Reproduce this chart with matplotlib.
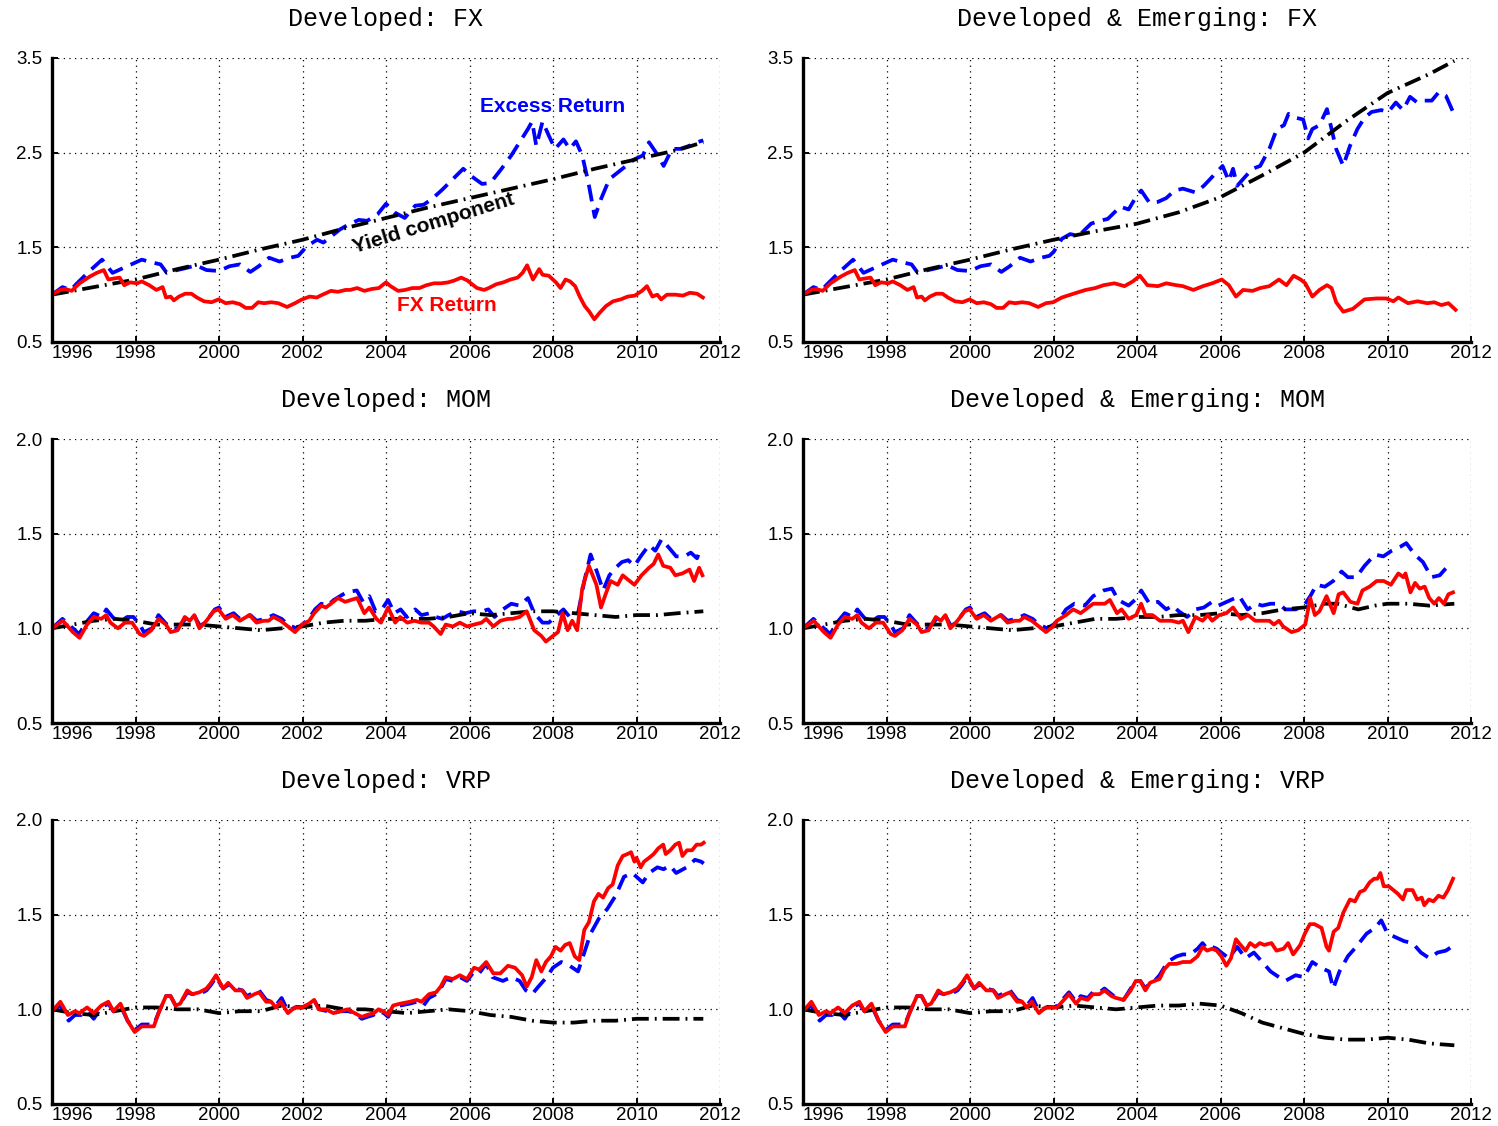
import matplotlib
matplotlib.use('Agg')
import matplotlib.pyplot as plt

# ---------------- DATA ----------------
years_ticks = [1996, 1998, 2000, 2002, 2004, 2006, 2008, 2010, 2012]
yticks_fx = [0.5, 1.5, 2.5, 3.5]
yticks_other = [0.5, 1.0, 1.5, 2.0]
titles = ["Developed: FX", "Developed & Emerging: FX",
          "Developed: MOM", "Developed & Emerging: MOM",
          "Developed: VRP", "Developed & Emerging: VRP"]

# ---- FX, common early part (1996-2002) ----
fx_early_red_t = [1996.0, 1996.2, 1996.32, 1996.47, 1996.66, 1996.9, 1997.07, 1997.24, 1997.35, 1997.47,
                  1997.62, 1997.73, 1997.87, 1998.04, 1998.15, 1998.33, 1998.5, 1998.65, 1998.73, 1998.84,
                  1998.92, 1999.04, 1999.19, 1999.34, 1999.47, 1999.64, 1999.82, 1999.99, 2000.16, 2000.33,
                  2000.5, 2000.64, 2000.79, 2000.94, 2001.08, 2001.25, 2001.42, 2001.63, 2001.82]
fx_early_red_v = [1.0, 1.05, 1.06, 1.04, 1.12, 1.19, 1.23, 1.26, 1.16, 1.17,
                  1.18, 1.1, 1.13, 1.12, 1.14, 1.1, 1.05, 1.08, 0.97, 0.98,
                  0.94, 0.98, 1.01, 1.01, 0.97, 0.93, 0.92, 0.95, 0.91, 0.92,
                  0.9, 0.86, 0.86, 0.92, 0.91, 0.92, 0.91, 0.87, 0.91]
fx_early_blue_t = [1996.0, 1996.25, 1996.45, 1996.6, 1996.9, 1997.2, 1997.45, 1997.7, 1997.9, 1998.15,
                   1998.4, 1998.6, 1998.75, 1998.9, 1999.2, 1999.45, 1999.7, 2000.0, 2000.25, 2000.5,
                   2000.75, 2000.95, 2001.2, 2001.45, 2001.7, 2001.9]
fx_early_blue_v = [1.0, 1.08, 1.05, 1.12, 1.25, 1.37, 1.23, 1.28, 1.32, 1.37,
                   1.34, 1.32, 1.23, 1.25, 1.28, 1.31, 1.26, 1.25, 1.3, 1.32,
                   1.24, 1.3, 1.39, 1.35, 1.39, 1.41]

# ---- Developed: FX ----
dev_fx_red_t = [2001.99, 2002.17, 2002.34, 2002.48, 2002.68, 2002.85, 2003.03, 2003.14, 2003.31, 2003.48,
                2003.66, 2003.83, 2004.0, 2004.11, 2004.29, 2004.46, 2004.63, 2004.8, 2004.97, 2005.15,
                2005.32, 2005.49, 2005.64, 2005.8, 2005.95, 2006.06, 2006.18, 2006.35, 2006.46, 2006.64,
                2006.81, 2006.98, 2007.15, 2007.27, 2007.38, 2007.52, 2007.67, 2007.75, 2007.9, 2008.07,
                2008.18, 2008.3, 2008.41, 2008.53, 2008.64, 2008.76, 2008.87, 2008.99, 2009.12, 2009.27,
                2009.44, 2009.62, 2009.79, 2009.96, 2010.13, 2010.25, 2010.38, 2010.5, 2010.59, 2010.73,
                2010.93, 2011.11, 2011.28, 2011.45, 2011.59]
dev_fx_red_v = [0.95, 0.98, 0.97, 1.0, 1.04, 1.03, 1.05, 1.05, 1.07, 1.04,
                1.06, 1.07, 1.13, 1.09, 1.04, 1.05, 1.07, 1.07, 1.1, 1.12,
                1.12, 1.13, 1.15, 1.18, 1.15, 1.11, 1.07, 1.05, 1.07, 1.11,
                1.13, 1.16, 1.18, 1.23, 1.31, 1.16, 1.27, 1.21, 1.2, 1.13,
                1.07, 1.16, 1.14, 1.09, 0.98, 0.88, 0.82, 0.74, 0.81, 0.88,
                0.93, 0.95, 0.98, 0.99, 1.04, 1.09, 0.98, 1.0, 0.95, 1.0,
                1.0, 0.99, 1.02, 1.01, 0.97]
dev_fx_blue_t = [2002.1, 2002.35, 2002.5, 2002.7, 2002.9, 2003.1, 2003.35, 2003.55, 2003.8, 2004.0,
                 2004.2, 2004.45, 2004.7, 2004.9, 2005.1, 2005.35, 2005.6, 2005.85, 2006.05, 2006.3,
                 2006.5, 2006.75, 2007.0, 2007.2, 2007.4, 2007.5, 2007.6, 2007.75, 2007.9, 2008.05,
                 2008.25, 2008.4, 2008.55, 2008.7, 2008.85, 2009.0, 2009.15, 2009.35, 2009.55, 2009.75,
                 2009.95, 2010.15, 2010.3, 2010.5, 2010.65, 2010.85, 2011.05, 2011.25, 2011.45, 2011.6]
dev_fx_blue_v = [1.51, 1.58, 1.55, 1.62, 1.69, 1.74, 1.79, 1.78, 1.85, 1.96,
                 1.87, 1.81, 1.94, 1.95, 2.01, 2.11, 2.22, 2.33, 2.25, 2.17,
                 2.18, 2.32, 2.47, 2.61, 2.75, 2.83, 2.57, 2.83, 2.68, 2.54,
                 2.64, 2.54, 2.62, 2.47, 2.18, 1.82, 2.01, 2.22, 2.29, 2.36,
                 2.43, 2.47, 2.61, 2.48, 2.36, 2.54, 2.54, 2.57, 2.61, 2.63]
dev_fx_black_t = [1996, 1997, 1998, 1999, 2000, 2001, 2002, 2003, 2004, 2005, 2006, 2007, 2008, 2009,
                  2010, 2011, 2011.6]
dev_fx_black_v = [1.0, 1.08, 1.16, 1.27, 1.37, 1.48, 1.58, 1.7, 1.81, 1.92, 2.02, 2.12, 2.22, 2.33,
                  2.43, 2.53, 2.61]

# ---- Developed & Emerging: FX ----
de_fx_red_t = [2001.99, 2002.2, 2002.55, 2002.77, 2003.0, 2003.2, 2003.46, 2003.7, 2003.9, 2004.07,
               2004.25, 2004.5, 2004.7, 2004.94, 2005.1, 2005.35, 2005.58, 2005.8, 2006.03, 2006.2,
               2006.37, 2006.54, 2006.77, 2006.95, 2007.17, 2007.4, 2007.58, 2007.75, 2007.92, 2008.03,
               2008.2, 2008.37, 2008.55, 2008.66, 2008.77, 2008.94, 2009.17, 2009.45, 2009.74, 2009.97,
               2010.14, 2010.26, 2010.49, 2010.72, 2010.95, 2011.12, 2011.29, 2011.46, 2011.63]
de_fx_red_v = [0.92, 0.97, 1.02, 1.05, 1.07, 1.1, 1.12, 1.09, 1.14, 1.2,
               1.1, 1.09, 1.12, 1.1, 1.09, 1.05, 1.09, 1.12, 1.16, 1.1,
               0.98, 1.05, 1.04, 1.07, 1.09, 1.16, 1.1, 1.2, 1.16, 1.12,
               0.98, 1.05, 1.1, 1.07, 0.92, 0.82, 0.85, 0.95, 0.96, 0.96,
               0.93, 0.97, 0.91, 0.93, 0.91, 0.92, 0.89, 0.91, 0.84]
de_fx_blue_t = [2002.0, 2002.2, 2002.4, 2002.6, 2002.9, 2003.1, 2003.3, 2003.6, 2003.8, 2004.0,
                2004.1, 2004.3, 2004.5, 2004.7, 2004.9, 2005.1, 2005.4, 2005.6, 2005.9, 2006.05,
                2006.2, 2006.3, 2006.4, 2006.6, 2006.77, 2006.95, 2007.17, 2007.35, 2007.52, 2007.63,
                2007.8, 2007.98, 2008.1, 2008.2, 2008.37, 2008.55, 2008.66, 2008.77, 2008.94, 2009.1,
                2009.28, 2009.45, 2009.62, 2009.85, 2010.02, 2010.2, 2010.37, 2010.54, 2010.71, 2010.89,
                2011.06, 2011.23, 2011.4, 2011.57]
de_fx_blue_v = [1.45, 1.59, 1.64, 1.62, 1.75, 1.78, 1.8, 1.93, 1.9, 2.05,
                2.1, 1.97, 1.98, 2.02, 2.1, 2.12, 2.08, 2.15, 2.29, 2.36,
                2.2, 2.33, 2.15, 2.25, 2.33, 2.36, 2.54, 2.75, 2.79, 2.91,
                2.87, 2.85, 2.65, 2.75, 2.79, 2.96, 2.75, 2.54, 2.36, 2.57,
                2.75, 2.87, 2.93, 2.95, 2.93, 3.03, 2.95, 3.09, 3.03, 3.05,
                3.05, 3.14, 3.1, 2.93]
de_fx_black_t = [1996, 1997, 1998, 1999, 2000, 2001, 2002, 2003, 2004, 2005, 2006, 2007, 2008, 2009,
                 2010, 2011, 2011.6]
de_fx_black_v = [1.0, 1.08, 1.16, 1.27, 1.37, 1.48, 1.58, 1.67, 1.75, 1.87, 2.03, 2.26, 2.5, 2.83,
                 3.13, 3.33, 3.47]

# ---- MOM, common early part ----
mom_early_red_t = [1996.0, 1996.26, 1996.5, 1996.66, 1996.84, 1997.0, 1997.18, 1997.3, 1997.4, 1997.58,
                   1997.75, 1997.92, 1998.1, 1998.2, 1998.38, 1998.55, 1998.73, 1998.84, 1999.01, 1999.18,
                   1999.3, 1999.41, 1999.53, 1999.7, 1999.87, 1999.99, 2000.16, 2000.33, 2000.5, 2000.73,
                   2000.9, 2001.07, 2001.19, 2001.3, 2001.48, 2001.65, 2001.82]
mom_early_red_v = [1.0, 1.04, 0.98, 0.95, 1.02, 1.06, 1.05, 1.07, 1.03, 1.0,
                   1.03, 1.03, 0.97, 0.96, 0.99, 1.05, 1.02, 0.98, 0.99, 1.06,
                   1.04, 1.07, 1.0, 1.04, 1.09, 1.1, 1.05, 1.07, 1.04, 1.07,
                   1.03, 1.04, 1.04, 1.06, 1.04, 1.01, 0.98]
mom_early_blue_t = [1996.0, 1996.25, 1996.5, 1996.65, 1996.85, 1997.0, 1997.2, 1997.3, 1997.45, 1997.6,
                    1997.8, 1997.95, 1998.1, 1998.2, 1998.4, 1998.55, 1998.75, 1998.85, 1999.0, 1999.2,
                    1999.4, 1999.55, 1999.7, 1999.9, 2000.0, 2000.15, 2000.35, 2000.5, 2000.75, 2000.9,
                    2001.1, 2001.3, 2001.5, 2001.65, 2001.85]
mom_early_blue_v = [1.0, 1.05, 1.0, 0.97, 1.04, 1.08, 1.06, 1.1, 1.06, 1.03,
                    1.06, 1.06, 1.02, 0.98, 1.0, 1.07, 1.02, 1.0, 1.0, 1.05,
                    1.07, 1.01, 1.04, 1.1, 1.11, 1.06, 1.08, 1.05, 1.07, 1.04,
                    1.05, 1.07, 1.05, 1.02, 1.0]
mom_early_black_t = [1996.0, 1996.5, 1997.0, 1997.5, 1998.0, 1998.5, 1999.0, 1999.5, 2000.0, 2000.5,
                     2001.0, 2001.5]
mom_early_black_v = [1.0, 1.02, 1.04, 1.05, 1.04, 1.02, 1.02, 1.02, 1.01, 1.0, 0.99, 1.0]

# ---- Developed: MOM ----
dev_mom_red_t = [2001.99, 2002.16, 2002.28, 2002.45, 2002.56, 2002.68, 2002.85, 2003.02, 2003.31, 2003.48,
                 2003.6, 2003.77, 2003.88, 2004.05, 2004.22, 2004.34, 2004.51, 2004.68, 2004.85, 2005.03,
                 2005.14, 2005.31, 2005.43, 2005.6, 2005.77, 2005.94, 2006.11, 2006.29, 2006.4, 2006.57,
                 2006.74, 2006.92, 2007.03, 2007.2, 2007.37, 2007.55, 2007.72, 2007.83, 2008.0, 2008.12,
                 2008.23, 2008.35, 2008.46, 2008.58, 2008.7, 2008.86, 2009.04, 2009.15, 2009.26, 2009.38,
                 2009.55, 2009.67, 2009.78, 2009.95, 2010.12, 2010.3, 2010.41, 2010.52, 2010.64, 2010.81,
                 2010.93, 2011.1, 2011.27, 2011.38, 2011.5, 2011.58]
dev_mom_red_v = [1.02, 1.04, 1.08, 1.12, 1.11, 1.13, 1.16, 1.14, 1.16, 1.08,
                 1.11, 1.05, 1.03, 1.11, 1.03, 1.06, 1.03, 1.04, 1.03, 1.03,
                 1.01, 0.97, 1.02, 1.01, 1.03, 1.01, 1.02, 1.03, 1.05, 1.01,
                 1.04, 1.05, 1.05, 1.06, 1.09, 0.99, 0.96, 0.93, 0.96, 0.98,
                 1.08, 0.99, 1.04, 0.99, 1.21, 1.33, 1.23, 1.11, 1.18, 1.25,
                 1.23, 1.28, 1.26, 1.23, 1.28, 1.32, 1.34, 1.39, 1.33, 1.32,
                 1.28, 1.29, 1.31, 1.25, 1.32, 1.28]
dev_mom_blue_t = [2002.0, 2002.15, 2002.3, 2002.45, 2002.6, 2002.75, 2002.9, 2003.05, 2003.3, 2003.45,
                  2003.6, 2003.75, 2003.9, 2004.05, 2004.2, 2004.35, 2004.5, 2004.7, 2004.85, 2005.05,
                  2005.2, 2005.35, 2005.5, 2005.7, 2005.9, 2006.1, 2006.3, 2006.45, 2006.6, 2006.8,
                  2007.0, 2007.2, 2007.4, 2007.55, 2007.75, 2007.9, 2008.1, 2008.25, 2008.4, 2008.6,
                  2008.75, 2008.9, 2009.05, 2009.2, 2009.35, 2009.5, 2009.65, 2009.8, 2009.95, 2010.1,
                  2010.3, 2010.45, 2010.6, 2010.8, 2010.95, 2011.15, 2011.3, 2011.45, 2011.55]
dev_mom_blue_v = [1.02, 1.05, 1.1, 1.13, 1.12, 1.15, 1.17, 1.19, 1.2, 1.14,
                  1.17, 1.09, 1.1, 1.15, 1.08, 1.1, 1.06, 1.1, 1.07, 1.08,
                  1.06, 1.05, 1.07, 1.09, 1.08, 1.09, 1.09, 1.1, 1.06, 1.1,
                  1.13, 1.12, 1.16, 1.08, 1.03, 1.03, 1.07, 1.1, 1.06, 1.08,
                  1.25, 1.39, 1.3, 1.2, 1.28, 1.32, 1.35, 1.36, 1.33, 1.38,
                  1.44, 1.41, 1.47, 1.42, 1.38, 1.38, 1.4, 1.37, 1.43]
dev_mom_black_t = [2002.0, 2002.5, 2003.0, 2003.5, 2004.0, 2004.5, 2005.0, 2005.5, 2006.0, 2006.5,
                   2007.0, 2007.5, 2008.0, 2008.5, 2009.0, 2009.5, 2010.0, 2010.5, 2011.0, 2011.6]
dev_mom_black_v = [1.01, 1.03, 1.04, 1.04, 1.05, 1.05, 1.05, 1.06, 1.08, 1.07,
                   1.08, 1.09, 1.09, 1.08, 1.07, 1.06, 1.07, 1.07, 1.08, 1.09]

# ---- Developed & Emerging: MOM ----
de_mom_red_t = [2001.99, 2002.08, 2002.3, 2002.47, 2002.65, 2002.77, 2002.95, 2003.23, 2003.35, 2003.52,
                2003.63, 2003.8, 2003.98, 2004.1, 2004.2, 2004.37, 2004.55, 2004.7, 2004.83, 2005.0,
                2005.1, 2005.23, 2005.4, 2005.57, 2005.7, 2005.8, 2005.97, 2006.14, 2006.3, 2006.49,
                2006.66, 2006.83, 2007.0, 2007.17, 2007.28, 2007.4, 2007.5, 2007.7, 2007.86, 2008.03,
                2008.15, 2008.26, 2008.37, 2008.54, 2008.71, 2008.83, 2008.94, 2009.11, 2009.28, 2009.4,
                2009.57, 2009.74, 2009.91, 2010.08, 2010.26, 2010.38, 2010.43, 2010.55, 2010.66, 2010.77,
                2010.89, 2011.0, 2011.12, 2011.23, 2011.35, 2011.46, 2011.57]
de_mom_red_v = [1.01, 1.04, 1.07, 1.1, 1.08, 1.1, 1.13, 1.13, 1.15, 1.08,
                1.1, 1.05, 1.07, 1.13, 1.07, 1.07, 1.04, 1.04, 1.04, 1.03,
                1.04, 0.98, 1.06, 1.04, 1.07, 1.04, 1.07, 1.08, 1.11, 1.05,
                1.07, 1.04, 1.04, 1.04, 1.02, 1.04, 1.01, 0.98, 0.99, 1.02,
                1.16, 1.07, 1.09, 1.17, 1.08, 1.18, 1.19, 1.14, 1.13, 1.2,
                1.22, 1.25, 1.25, 1.23, 1.29, 1.27, 1.29, 1.19, 1.24, 1.21,
                1.22, 1.16, 1.13, 1.16, 1.13, 1.18, 1.19]
de_mom_blue_t = [2002.0, 2002.15, 2002.3, 2002.5, 2002.75, 2002.95, 2003.2, 2003.4, 2003.55, 2003.8,
                 2004.0, 2004.1, 2004.3, 2004.5, 2004.7, 2004.85, 2005.0, 2005.2, 2005.4, 2005.6,
                 2005.8, 2005.95, 2006.15, 2006.45, 2006.65, 2006.85, 2007.0, 2007.2, 2007.4, 2007.55,
                 2007.8, 2008.0, 2008.15, 2008.3, 2008.5, 2008.7, 2008.9, 2009.05, 2009.25, 2009.45,
                 2009.7, 2009.9, 2010.1, 2010.3, 2010.45, 2010.65, 2010.85, 2011.05, 2011.25, 2011.45,
                 2011.55]
de_mom_blue_v = [1.02, 1.05, 1.1, 1.13, 1.12, 1.17, 1.2, 1.21, 1.15, 1.12,
                 1.16, 1.2, 1.13, 1.14, 1.1, 1.12, 1.09, 1.06, 1.1, 1.11,
                 1.14, 1.12, 1.14, 1.17, 1.1, 1.13, 1.12, 1.13, 1.13, 1.1,
                 1.1, 1.12, 1.17, 1.23, 1.22, 1.25, 1.3, 1.27, 1.27, 1.33,
                 1.39, 1.38, 1.41, 1.43, 1.45, 1.39, 1.35, 1.27, 1.28, 1.33,
                 1.34]
de_mom_black_t = [2002.0, 2002.5, 2003.0, 2003.5, 2004.0, 2004.5, 2005.0, 2005.5, 2006.0, 2006.5,
                  2007.0, 2007.5, 2008.0, 2008.5, 2008.8, 2009.3, 2009.7, 2010.0, 2010.5, 2011.0,
                  2011.6]
de_mom_black_v = [1.01, 1.03, 1.05, 1.05, 1.06, 1.06, 1.07, 1.07, 1.08, 1.07,
                  1.08, 1.1, 1.11, 1.13, 1.13, 1.1, 1.12, 1.13, 1.13, 1.12,
                  1.13]

# ---- VRP, common early part ----
vrp_early_red_t = [1996.0, 1996.2, 1996.38, 1996.55, 1996.66, 1996.84, 1997.0, 1997.18, 1997.35, 1997.47,
                   1997.64, 1997.81, 1997.98, 1998.15, 1998.33, 1998.44, 1998.55, 1998.73, 1998.84, 1998.96,
                   1999.07, 1999.24, 1999.36, 1999.53, 1999.7, 1999.81, 1999.93, 2000.1, 2000.22, 2000.39,
                   2000.56, 2000.67, 2000.85, 2000.96, 2001.13, 2001.25, 2001.36, 2001.48, 2001.65, 2001.82]
vrp_early_red_v = [0.99, 1.04, 0.97, 0.99, 0.98, 1.01, 0.98, 1.02, 1.04, 0.99,
                   1.03, 0.94, 0.88, 0.91, 0.91, 0.91, 0.98, 1.07, 1.07, 1.02,
                   1.03, 1.1, 1.08, 1.09, 1.11, 1.14, 1.18, 1.11, 1.14, 1.1,
                   1.1, 1.06, 1.08, 1.09, 1.04, 1.04, 1.01, 1.04, 0.98, 1.01]
vrp_early_blue_t = [1996.0, 1996.2, 1996.4, 1996.55, 1996.7, 1996.84, 1997.0, 1997.18, 1997.35, 1997.47,
                    1997.64, 1997.81, 1997.98, 1998.15, 1998.33, 1998.44, 1998.55, 1998.73, 1998.84, 1998.96,
                    1999.07, 1999.24, 1999.36, 1999.53, 1999.7, 1999.81, 1999.93, 2000.1, 2000.22, 2000.39,
                    2000.56, 2000.67, 2000.85, 2000.96, 2001.13, 2001.25, 2001.36, 2001.5, 2001.65, 2001.82]
vrp_early_blue_v = [0.99, 1.02, 0.94, 0.97, 0.97, 0.99, 0.95, 1.01, 1.03, 0.99,
                    1.02, 0.94, 0.89, 0.92, 0.92, 0.92, 0.98, 1.07, 1.07, 1.02,
                    1.03, 1.09, 1.08, 1.08, 1.1, 1.13, 1.17, 1.11, 1.13, 1.11,
                    1.1, 1.07, 1.09, 1.1, 1.05, 1.04, 1.02, 1.06, 0.99, 1.01]
vrp_early_black_t = [1996.0, 1996.5, 1997.0, 1997.5, 1998.0, 1998.5, 1999.0, 1999.5, 2000.0, 2000.5,
                     2001.0, 2001.5]
vrp_early_black_v = [1.0, 0.98, 0.97, 0.99, 1.01, 1.01, 1.0, 1.0, 0.98, 0.99, 0.99, 1.02]

# ---- Developed: VRP ----
dev_vrp_red_t = [2001.99, 2002.16, 2002.28, 2002.39, 2002.56, 2002.74, 2002.91, 2003.08, 2003.25, 2003.42,
                 2003.54, 2003.71, 2003.82, 2003.94, 2004.05, 2004.17, 2004.34, 2004.57, 2004.74, 2004.85,
                 2005.03, 2005.2, 2005.31, 2005.43, 2005.6, 2005.77, 2005.94, 2006.11, 2006.23, 2006.4,
                 2006.57, 2006.74, 2006.92, 2007.09, 2007.26, 2007.37, 2007.49, 2007.6, 2007.72, 2007.83,
                 2007.95, 2008.06, 2008.18, 2008.29, 2008.4, 2008.52, 2008.63, 2008.75, 2008.86, 2008.98,
                 2009.09, 2009.2, 2009.32, 2009.43, 2009.55, 2009.67, 2009.78, 2009.87, 2009.95, 2010.0,
                 2010.1, 2010.18, 2010.3, 2010.41, 2010.52, 2010.64, 2010.7, 2010.81, 2010.93, 2011.02,
                 2011.1, 2011.21, 2011.33, 2011.44, 2011.55, 2011.61]
dev_vrp_red_v = [1.01, 1.03, 1.05, 1.0, 1.0, 0.98, 0.99, 1.0, 0.98, 0.96,
                 0.97, 0.98, 1.0, 0.99, 0.97, 1.02, 1.03, 1.04, 1.05, 1.04,
                 1.08, 1.09, 1.12, 1.17, 1.16, 1.18, 1.16, 1.22, 1.21, 1.25,
                 1.19, 1.19, 1.23, 1.22, 1.18, 1.12, 1.17, 1.26, 1.2, 1.25,
                 1.28, 1.33, 1.31, 1.34, 1.35, 1.28, 1.26, 1.42, 1.46, 1.57,
                 1.61, 1.59, 1.64, 1.66, 1.76, 1.81, 1.82, 1.83, 1.78, 1.8,
                 1.75, 1.78, 1.8, 1.82, 1.85, 1.87, 1.82, 1.84, 1.87, 1.88,
                 1.81, 1.84, 1.84, 1.87, 1.87, 1.88]
dev_vrp_blue_t = [2002.0, 2002.2, 2002.3, 2002.4, 2002.6, 2002.75, 2002.9, 2003.1, 2003.25, 2003.42,
                  2003.55, 2003.7, 2003.82, 2003.95, 2004.05, 2004.17, 2004.34, 2004.57, 2004.74, 2004.9,
                  2005.03, 2005.2, 2005.31, 2005.43, 2005.6, 2005.77, 2005.94, 2006.11, 2006.23, 2006.4,
                  2006.55, 2006.8, 2007.0, 2007.2, 2007.35, 2007.5, 2007.65, 2007.85, 2008.0, 2008.2,
                  2008.4, 2008.6, 2008.75, 2008.9, 2009.1, 2009.3, 2009.5, 2009.7, 2009.9, 2010.05,
                  2010.15, 2010.3, 2010.5, 2010.65, 2010.8, 2010.95, 2011.2, 2011.4, 2011.55, 2011.61]
dev_vrp_blue_v = [1.01, 1.03, 1.04, 1.0, 0.99, 0.98, 0.99, 0.99, 0.98, 0.95,
                  0.96, 0.97, 0.99, 0.98, 0.96, 1.01, 1.02, 1.03, 1.04, 1.02,
                  1.06, 1.08, 1.11, 1.16, 1.15, 1.17, 1.15, 1.2, 1.19, 1.24,
                  1.17, 1.15, 1.17, 1.15, 1.1, 1.08, 1.12, 1.17, 1.22, 1.25,
                  1.23, 1.2, 1.3, 1.4, 1.48, 1.53, 1.6, 1.7, 1.72, 1.69,
                  1.67, 1.72, 1.75, 1.74, 1.76, 1.72, 1.75, 1.79, 1.78, 1.77]
dev_vrp_black_t = [2002.0, 2002.5, 2003.0, 2003.5, 2004.0, 2004.5, 2005.0, 2005.5, 2006.0, 2006.5,
                   2007.0, 2007.5, 2008.0, 2008.5, 2009.0, 2009.5, 2010.0, 2010.5, 2011.0, 2011.6]
dev_vrp_black_v = [1.01, 1.02, 1.0, 1.0, 0.99, 0.98, 0.99, 1.0, 0.99, 0.97,
                   0.96, 0.94, 0.93, 0.93, 0.94, 0.94, 0.95, 0.95, 0.95, 0.95]

# ---- Developed & Emerging: VRP ----
de_vrp_red_t = [2001.99, 2002.08, 2002.25, 2002.37, 2002.54, 2002.65, 2002.82, 2002.94, 2003.1, 2003.22,
                2003.39, 2003.5, 2003.68, 2003.85, 2003.97, 2004.08, 2004.2, 2004.31, 2004.42, 2004.54,
                2004.65, 2004.77, 2004.94, 2005.1, 2005.28, 2005.45, 2005.57, 2005.68, 2005.8, 2005.91,
                2006.02, 2006.14, 2006.25, 2006.37, 2006.48, 2006.6, 2006.71, 2006.83, 2006.94, 2007.05,
                2007.22, 2007.34, 2007.51, 2007.62, 2007.74, 2007.91, 2008.02, 2008.14, 2008.25, 2008.42,
                2008.54, 2008.6, 2008.71, 2008.82, 2008.94, 2009.1, 2009.22, 2009.34, 2009.45, 2009.57,
                2009.68, 2009.76, 2009.83, 2009.91, 2010.03, 2010.14, 2010.25, 2010.37, 2010.45, 2010.6,
                2010.71, 2010.82, 2010.88, 2010.99, 2011.1, 2011.22, 2011.34, 2011.45, 2011.57]
de_vrp_red_v = [1.01, 1.01, 1.05, 1.08, 1.03, 1.06, 1.05, 1.08, 1.08, 1.1,
                1.07, 1.06, 1.05, 1.1, 1.15, 1.15, 1.1, 1.14, 1.15, 1.16,
                1.21, 1.24, 1.24, 1.25, 1.25, 1.28, 1.33, 1.31, 1.32, 1.31,
                1.28, 1.23, 1.27, 1.37, 1.34, 1.31, 1.35, 1.33, 1.35, 1.34,
                1.35, 1.31, 1.32, 1.35, 1.29, 1.34, 1.4, 1.45, 1.45, 1.43,
                1.33, 1.31, 1.41, 1.43, 1.51, 1.58, 1.57, 1.62, 1.63, 1.67,
                1.69, 1.69, 1.72, 1.65, 1.65, 1.63, 1.61, 1.58, 1.63, 1.63,
                1.58, 1.59, 1.55, 1.58, 1.57, 1.6, 1.59, 1.63, 1.69]
de_vrp_blue_t = [2002.0, 2002.1, 2002.25, 2002.37, 2002.54, 2002.65, 2002.82, 2002.94, 2003.1, 2003.22,
                 2003.39, 2003.5, 2003.68, 2003.85, 2003.97, 2004.08, 2004.2, 2004.31, 2004.42, 2004.54,
                 2004.65, 2004.8, 2004.95, 2005.1, 2005.28, 2005.45, 2005.57, 2005.68, 2005.8, 2005.91,
                 2006.02, 2006.2, 2006.4, 2006.6, 2006.8, 2007.0, 2007.2, 2007.4, 2007.55, 2007.8,
                 2008.0, 2008.2, 2008.4, 2008.6, 2008.7, 2008.85, 2009.05, 2009.25, 2009.5, 2009.7,
                 2009.85, 2010.0, 2010.2, 2010.4, 2010.6, 2010.8, 2011.0, 2011.2, 2011.4, 2011.6]
de_vrp_blue_v = [1.01, 1.02, 1.06, 1.09, 1.04, 1.07, 1.06, 1.09, 1.09, 1.11,
                 1.08, 1.06, 1.05, 1.11, 1.15, 1.15, 1.11, 1.14, 1.15, 1.18,
                 1.22, 1.26, 1.28, 1.29, 1.29, 1.32, 1.35, 1.32, 1.33, 1.32,
                 1.3, 1.27, 1.33, 1.27, 1.3, 1.25, 1.2, 1.17, 1.15, 1.18,
                 1.17, 1.25, 1.22, 1.2, 1.11, 1.2, 1.28, 1.33, 1.4, 1.43,
                 1.47, 1.4, 1.38, 1.36, 1.35, 1.3, 1.27, 1.3, 1.31, 1.34]
de_vrp_black_t = [2002.0, 2002.5, 2003.0, 2003.5, 2004.0, 2004.5, 2005.0, 2005.5, 2006.0, 2006.5,
                  2007.0, 2007.5, 2008.0, 2008.5, 2009.0, 2009.5, 2010.0, 2010.5, 2011.0, 2011.6]
de_vrp_black_v = [1.01, 1.02, 1.01, 1.0, 1.01, 1.02, 1.02, 1.03, 1.02, 0.98,
                  0.93, 0.9, 0.87, 0.85, 0.84, 0.84, 0.85, 0.84, 0.82, 0.81]

# ---------------- assemble panels ----------------
panels = [
    (fx_early_blue_t + dev_fx_blue_t, fx_early_blue_v + dev_fx_blue_v,
     dev_fx_black_t, dev_fx_black_v,
     fx_early_red_t + dev_fx_red_t, fx_early_red_v + dev_fx_red_v, yticks_fx),
    (fx_early_blue_t + de_fx_blue_t, fx_early_blue_v + de_fx_blue_v,
     de_fx_black_t, de_fx_black_v,
     fx_early_red_t + de_fx_red_t, fx_early_red_v + de_fx_red_v, yticks_fx),
    (mom_early_blue_t + dev_mom_blue_t, mom_early_blue_v + dev_mom_blue_v,
     mom_early_black_t + dev_mom_black_t, mom_early_black_v + dev_mom_black_v,
     mom_early_red_t + dev_mom_red_t, mom_early_red_v + dev_mom_red_v, yticks_other),
    (mom_early_blue_t + de_mom_blue_t, mom_early_blue_v + de_mom_blue_v,
     mom_early_black_t + de_mom_black_t, mom_early_black_v + de_mom_black_v,
     mom_early_red_t + de_mom_red_t, mom_early_red_v + de_mom_red_v, yticks_other),
    (vrp_early_blue_t + dev_vrp_blue_t, vrp_early_blue_v + dev_vrp_blue_v,
     vrp_early_black_t + dev_vrp_black_t, vrp_early_black_v + dev_vrp_black_v,
     vrp_early_red_t + dev_vrp_red_t, vrp_early_red_v + dev_vrp_red_v, yticks_other),
    (vrp_early_blue_t + de_vrp_blue_t, vrp_early_blue_v + de_vrp_blue_v,
     vrp_early_black_t + de_vrp_black_t, vrp_early_black_v + de_vrp_black_v,
     vrp_early_red_t + de_vrp_red_t, vrp_early_red_v + de_vrp_red_v, yticks_other),
]

# ---------------- plotting ----------------
W, H = 1498, 1126
fig = plt.figure(figsize=(W / 100, H / 100), dpi=100)

col_x = [52, 803]
ax_w = 668
row_top = [58, 439, 820]
ax_h = 284

tick_font = 'Liberation Sans'
title_font = ['Liberation Mono', 'DejaVu Sans Mono']

for i, (bt, bv, kt, kv, rt, rv, yt) in enumerate(panels):
    r, c = divmod(i, 2)
    left = col_x[c] / W
    bottom = 1 - (row_top[r] + ax_h) / H
    ax = fig.add_axes([left, bottom, ax_w / W, ax_h / H])

    ax.plot(bt, bv, color='blue', lw=2.7, linestyle=(0, (4.5, 2.3)), zorder=3)
    ax.plot(kt, kv, color='black', lw=2.7, linestyle=(0, (4.5, 1.6, 0.5, 1.6)), zorder=4)
    ax.plot(rt, rv, color='red', lw=2.7, linestyle='-', zorder=5)

    ax.set_xlim(1996, 2012)
    ax.set_ylim(yt[0], yt[-1])
    ax.set_xticks(years_ticks)
    ax.set_xticklabels([str(y) for y in years_ticks])
    ax.set_yticks(yt)
    ax.set_yticklabels([f'{v:.1f}' for v in yt])
    ax.grid(True, color='black', linestyle=(0, (1, 3.5)), linewidth=0.9)
    ax.set_axisbelow(True)
    for s in ['top', 'right']:
        ax.spines[s].set_visible(False)
    for s in ['left', 'bottom']:
        ax.spines[s].set_linewidth(2.4)
        ax.spines[s].set_zorder(6)
    ax.tick_params(axis='both', direction='in', length=4, width=1.4, labelsize=13.5)
    ax.tick_params(axis='y', pad=7)
    ax.tick_params(axis='x', pad=2)
    for lab in ax.get_xticklabels() + ax.get_yticklabels():
        lab.set_fontfamily(tick_font)
    ax.xaxis.get_major_ticks()[0].label1.set_horizontalalignment('left')

    ax.set_title(titles[i], fontsize=18, family=title_font, pad=23)

    if i == 0:
        ax.text(2008.0, 2.99, 'Excess Return', color='blue', fontsize=15,
                fontweight='bold', family=tick_font, ha='center', va='center')
        ax.text(2005.45, 0.89, 'FX Return', color='red', fontsize=15,
                fontweight='bold', family=tick_font, ha='center', va='center')
        ax.text(2005.15, 1.75, 'Yield component', color='black', fontsize=15,
                fontweight='bold', family=tick_font, ha='center', va='center',
                rotation=17)

fig.savefig('out.png', dpi=100)
